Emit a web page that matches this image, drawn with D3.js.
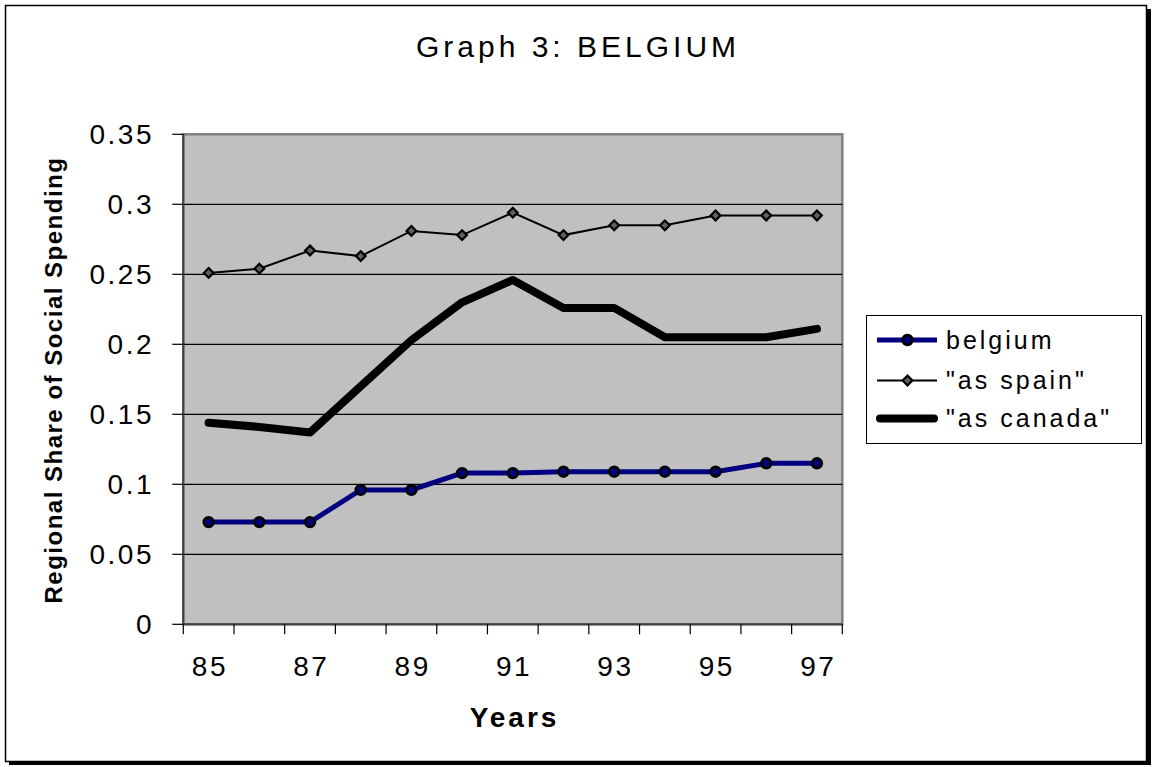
<!DOCTYPE html>
<html>
<head>
<meta charset="utf-8">
<script src="https://cdn.jsdelivr.net/npm/d3@7"></script>
<style>
  html, body { margin: 0; padding: 0; background: #fff; }
  svg { display: block; }
  text { font-family: "Liberation Sans", Arial, sans-serif; fill: #000; }
</style>
</head>
<body>
<svg id="chart" width="1155" height="767"></svg>
<script>
const title = "Graph 3: BELGIUM";
const xTitle = "Years";
const yTitle = "Regional Share of Social Spending";
const years = ["85","86","87","88","89","90","91","92","93","94","95","96","97"];
const xTickLabels = ["85","87","89","91","93","95","97"];
const yTicks = [0, 0.05, 0.1, 0.15, 0.2, 0.25, 0.3, 0.35];
const seriesNames = ["belgium", "\"as spain\"", "\"as canada\""];
const belgium = [0.073,0.073,0.073,0.096,0.096,0.108,0.108,0.109,0.109,0.109,0.109,0.115,0.115];
const spain   = [0.251,0.254,0.267,0.263,0.281,0.278,0.294,0.278,0.285,0.285,0.292,0.292,0.292];
const canada  = [0.144,0.141,0.137,0.170,0.203,0.230,0.246,0.226,0.226,0.205,0.205,0.205,0.211];

const svg = d3.select("#chart");
const plot = {left: 183.3, right: 842.3, top: 134.3, bottom: 624.3};

// chart frame with shadow
svg.append("rect").attr("x", 9).attr("y", 9).attr("width", 1142).attr("height", 756).attr("fill", "#000");
svg.append("rect").attr("x", 5.5).attr("y", 5.5).attr("width", 1141).attr("height", 756)
  .attr("fill", "#fff").attr("stroke", "#000").attr("stroke-width", 1.5);

const x = d3.scaleBand().domain(years).range([plot.left, plot.right]).padding(0);
const y = d3.scaleLinear().domain([0, 0.35]).range([plot.bottom, plot.top]);
const cx = d => x(d) + x.bandwidth() / 2;

// plot area
svg.append("rect").attr("x", plot.left).attr("y", plot.top)
  .attr("width", plot.right - plot.left).attr("height", plot.bottom - plot.top)
  .attr("fill", "#c0c0c0").attr("stroke", "#808080").attr("stroke-width", 2.5);

// gridlines
svg.append("g").selectAll("line").data(yTicks.filter(v => v > 0 && v < 0.35)).join("line")
  .attr("x1", plot.left).attr("x2", plot.right)
  .attr("y1", d => y(d)).attr("y2", d => y(d))
  .attr("stroke", "#000").attr("stroke-width", 1.2);

// y axis
const yAxis = svg.append("g");
yAxis.append("line").attr("x1", plot.left).attr("x2", plot.left)
  .attr("y1", plot.top).attr("y2", plot.bottom).attr("stroke", "#404040").attr("stroke-width", 2);
yAxis.selectAll("line.tick").data(yTicks).join("line").attr("class", "tick")
  .attr("x1", plot.left - 11).attr("x2", plot.left)
  .attr("y1", d => y(d)).attr("y2", d => y(d)).attr("stroke", "#000").attr("stroke-width", 1.2);
yAxis.selectAll("text").data(yTicks).join("text")
  .attr("x", 154).attr("y", d => y(d) + 10)
  .attr("text-anchor", "end").style("font-size", "28px").style("letter-spacing", "2.5px")
  .text(d => d3.format("")(+d.toFixed(2)));

// x axis
const xAxis = svg.append("g");
xAxis.append("line").attr("x1", plot.left).attr("x2", plot.right)
  .attr("y1", plot.bottom).attr("y2", plot.bottom).attr("stroke", "#404040").attr("stroke-width", 2);
const bounds = years.map(d => x(d)).concat([x(years[years.length - 1]) + x.bandwidth()]);
xAxis.selectAll("line.tick").data(bounds).join("line").attr("class", "tick")
  .attr("x1", d => d).attr("x2", d => d)
  .attr("y1", plot.bottom).attr("y2", plot.bottom + 10).attr("stroke", "#000").attr("stroke-width", 1.2);
xAxis.selectAll("text").data(xTickLabels).join("text")
  .attr("x", d => cx(d) + 1.25).attr("y", 676)
  .attr("text-anchor", "middle").style("font-size", "28px").style("letter-spacing", "2.5px")
  .text(d => d);

// titles
svg.append("text").attr("x", 578).attr("y", 57).attr("text-anchor", "middle")
  .style("font-size", "30px").style("letter-spacing", "4px").text(title);
svg.append("text").attr("x", 513 + 1.5).attr("y", 727).attr("text-anchor", "middle")
  .style("font-size", "28px").style("font-weight", "bold").style("letter-spacing", "3px").text(xTitle);
svg.append("text").attr("transform", `translate(62,${(plot.top + plot.bottom) / 2 + 0.75}) rotate(-90)`)
  .attr("text-anchor", "middle")
  .style("font-size", "24px").style("font-weight", "bold").style("letter-spacing", "1.5px").text(yTitle);

// lines
const line = d3.line().x((d, i) => cx(years[i])).y(d => y(d));
svg.append("path").datum(canada).attr("d", line).attr("fill", "none")
  .attr("stroke", "#000").attr("stroke-width", 8).attr("stroke-linecap", "round").attr("stroke-linejoin", "round");
svg.append("path").datum(belgium).attr("d", line).attr("fill", "none")
  .attr("stroke", "#000080").attr("stroke-width", 5);
svg.append("path").datum(spain).attr("d", line).attr("fill", "none")
  .attr("stroke", "#000").attr("stroke-width", 2);

const diamond = d3.symbol().type(d3.symbolDiamond2).size(60);
svg.append("g").selectAll("path").data(spain).join("path")
  .attr("transform", (d, i) => `translate(${cx(years[i])},${y(d)})`)
  .attr("d", diamond).attr("fill", "#606060").attr("stroke", "#000").attr("stroke-width", 2.2);
svg.append("g").selectAll("circle").data(belgium).join("circle")
  .attr("cx", (d, i) => cx(years[i])).attr("cy", d => y(d)).attr("r", 4.8)
  .attr("fill", "#000080").attr("stroke", "#000").attr("stroke-width", 2.8);

// legend
const lg = svg.append("g");
lg.append("rect").attr("x", 866.5).attr("y", 315.5).attr("width", 275).attr("height", 128)
  .attr("fill", "#fff").attr("stroke", "#000").attr("stroke-width", 1);
const ly = [340, 380.5, 418.5];
const lx1 = 877, lx2 = 937, lmx = 907.5;
lg.append("line").attr("x1", lx1).attr("x2", lx2).attr("y1", ly[0]).attr("y2", ly[0])
  .attr("stroke", "#000080").attr("stroke-width", 5);
lg.append("circle").attr("cx", lmx).attr("cy", ly[0]).attr("r", 4.8)
  .attr("fill", "#000080").attr("stroke", "#000").attr("stroke-width", 2.8);
lg.append("line").attr("x1", lx1).attr("x2", lx2).attr("y1", ly[1]).attr("y2", ly[1])
  .attr("stroke", "#000").attr("stroke-width", 2);
lg.append("path").attr("transform", `translate(${lmx},${ly[1]})`).attr("d", diamond)
  .attr("fill", "#606060").attr("stroke", "#000").attr("stroke-width", 2.2);
lg.append("line").attr("x1", lx1 + 3).attr("x2", lx2 - 3).attr("y1", ly[2]).attr("y2", ly[2])
  .attr("stroke", "#000").attr("stroke-width", 8).attr("stroke-linecap", "round");
lg.selectAll("text").data(seriesNames).join("text")
  .attr("x", 946).attr("y", (d, i) => ly[i] + 8.5)
  .style("font-size", "25px").style("letter-spacing", "3px").text(d => d);
</script>
</body>
</html>
